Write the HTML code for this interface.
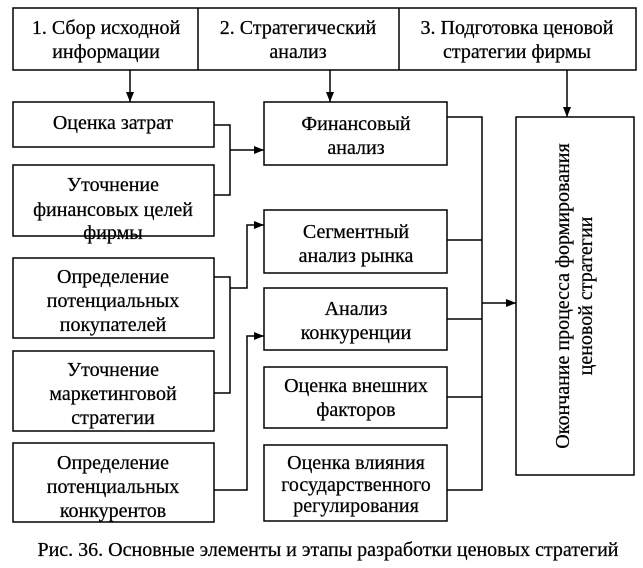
<!DOCTYPE html>
<html><head><meta charset="utf-8"><style>
html,body{margin:0;padding:0;background:#fff;}
svg{display:block;}
text{font-family:"Liberation Serif",serif;font-size:20px;fill:#000;stroke:#000;stroke-width:0.25;}
</style></head><body>
<svg width="643" height="568" viewBox="0 0 643 568" xmlns="http://www.w3.org/2000/svg">
<defs><marker id="a" markerWidth="10" markerHeight="8" refX="10" refY="4" orient="auto" markerUnits="userSpaceOnUse"><path d="M0,0 L10,4 L0,8 z" fill="#000"/></marker></defs>
<g fill="none" stroke="#000" stroke-width="1.5">
<rect x="13" y="8" width="623" height="62"/>
<line x1="198" y1="8" x2="198" y2="70"/>
<line x1="399" y1="8" x2="399" y2="70"/>
<rect x="13" y="102" width="201" height="45"/>
<rect x="13" y="165" width="201" height="71"/>
<rect x="13" y="258" width="201" height="80"/>
<rect x="13" y="351" width="201" height="80"/>
<rect x="13" y="443" width="201" height="79"/>
<rect x="264" y="102" width="183" height="63"/>
<rect x="264" y="210" width="183" height="63"/>
<rect x="264" y="288" width="183" height="62"/>
<rect x="264" y="367" width="183" height="61"/>
<rect x="264" y="445" width="183" height="76"/>
<rect x="516" y="117" width="118" height="358"/>
<line x1="130" y1="70" x2="130" y2="102" marker-end="url(#a)"/>
<line x1="330" y1="70" x2="330" y2="102" marker-end="url(#a)"/>
<line x1="567" y1="70" x2="567" y2="117" marker-end="url(#a)"/>
<polyline points="214,125 230,125 230,195 214,195"/>
<line x1="230" y1="150" x2="264" y2="150" marker-end="url(#a)"/>
<polyline points="214,277 230,277 230,393 214,393"/>
<polyline points="230,288 247,288 247,225 264,225" marker-end="url(#a)"/>
<polyline points="214,490 247,490 247,336 264,336" marker-end="url(#a)"/>
<polyline points="447,117 482,117 482,490 447,490"/>
<line x1="447" y1="240" x2="482" y2="240"/>
<line x1="447" y1="319" x2="482" y2="319"/>
<line x1="447" y1="397" x2="482" y2="397"/>
<line x1="482" y1="303" x2="516" y2="303" marker-end="url(#a)"/>
</g>
<g text-anchor="middle">
<text x="106" y="34">1. Сбор исходной</text><text x="106" y="58">информации</text>
<text x="298" y="34">2. Стратегический</text><text x="298" y="58">анализ</text>
<text x="517" y="34">3. Подготовка ценовой</text><text x="517" y="58">стратегии фирмы</text>
<text x="113" y="129">Оценка затрат</text>
<text x="113" y="191">Уточнение</text><text x="113" y="216">финансовых целей</text><text x="113" y="239">фирмы</text>
<text x="113" y="283">Определение</text><text x="113" y="307">потенциальных</text><text x="113" y="331">покупателей</text>
<text x="113" y="376">Уточнение</text><text x="113" y="400">маркетинговой</text><text x="113" y="424">стратегии</text>
<text x="113" y="469">Определение</text><text x="113" y="493">потенциальных</text><text x="113" y="517">конкурентов</text>
<text x="356" y="130">Финансовый</text><text x="356" y="154">анализ</text>
<text x="356" y="238">Сегментный</text><text x="356" y="262">анализ рынка</text>
<text x="356" y="315">Анализ</text><text x="356" y="339">конкуренции</text>
<text x="356" y="392">Оценка внешних</text><text x="356" y="416">факторов</text>
<text x="356" y="469">Оценка влияния</text><text x="356" y="491">государственного</text><text x="356" y="512">регулирования</text>
<g transform="translate(575,296) rotate(-90)"><text x="0" y="-6">Окончание процесса формирования</text><text x="0" y="17">ценовой стратегии</text></g>
<text x="328" y="556">Рис. 36. Основные элементы и этапы разработки ценовых стратегий</text>
</g>
</svg>
</body></html>
